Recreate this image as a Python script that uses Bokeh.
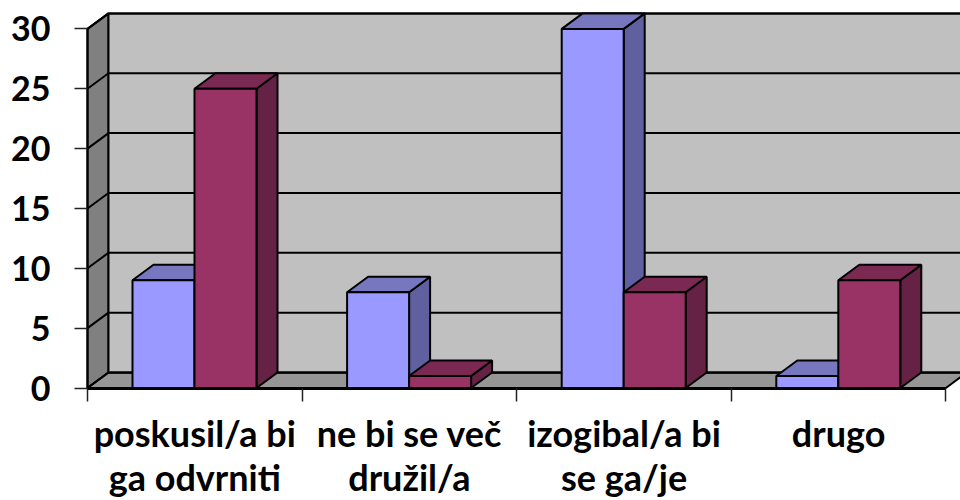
from bokeh.plotting import figure
from bokeh.models import FixedTicker, Range1d
from bokeh.core.properties import value
from bokeh.embed import file_html
from bokeh.resources import INLINE

line1 = ["poskusil/a bi", "ne bi se več", "izogibal/a bi", "drugo"]
line2 = ["ga odvrniti", "družil/a", "se ga/je", ""]
series_a = [9, 8, 30, 1]
series_b = [25, 1, 8, 9]
y_ticks = [0, 5, 10, 15, 20, 25, 30]

PX_X = 214.6
PX_Y = 11.97
DX = 21 / PX_X
DY = 15.5 / PX_Y
GAP = 45 / PX_X
BAR = 62 / PX_X
YMAX = 30
FONT = "Lato"

p = figure(width=960, height=500, output_backend="svg", toolbar_location=None,
           x_range=Range1d(-87 / PX_X, 873 / PX_X), y_range=Range1d(-112.5 / PX_Y, 387.5 / PX_Y),
           min_border=0, outline_line_color=None)
p.grid.visible = False
p.background_fill_color = "white"
p.border_fill_color = "white"

n = len(line1)
p.patch([0, DX, DX, 0], [0, DY, YMAX + DY, YMAX], fill_color="#808080", line_color="black", line_width=2)
p.patch([0, DX, n + DX, n], [0, DY, DY, 0], fill_color="#969696", line_color="black", line_width=2)
p.quad(left=[DX], right=[n + DX], bottom=[DY], top=[YMAX + DY], fill_color="#c0c0c0", line_color="black", line_width=2)
for t in y_ticks:
    p.line([0, DX, n + DX], [t, t + DY, t + DY], line_color="black", line_width=2)


def bar(x, v, front, top, side):
    p.patch([x + BAR, x + BAR + DX, x + BAR + DX, x + BAR], [0, DY, v + DY, v],
            fill_color=side, line_color="black", line_width=2)
    p.patch([x, x + DX, x + BAR + DX, x + BAR], [v, v + DY, v + DY, v],
            fill_color=top, line_color="black", line_width=2)
    p.quad(left=[x], right=[x + BAR], bottom=[0], top=[v], fill_color=front, line_color="black", line_width=2)


for i in range(n):
    bar(i + GAP, series_a[i], "#9999ff", "#7777c0", "#6060a0")
    bar(i + GAP + BAR, series_b[i], "#993366", "#7a2952", "#662244")

xa = p.xaxis[0]
xa.fixed_location = 0
xa.ticker = FixedTicker(ticks=list(range(n + 1)))
xa.major_label_overrides = {i: "" for i in range(n + 1)}
xa.bounds = (0, n)
xa.major_tick_in = 0
xa.major_tick_out = 13
xa.minor_tick_line_color = None
xa.axis_line_color = "black"
xa.axis_line_width = 3
xa.major_tick_line_color = "#222222"
xa.major_tick_line_width = 1.5

ya = p.yaxis[0]
ya.fixed_location = 0
ya.ticker = FixedTicker(ticks=y_ticks)
ya.bounds = (0, YMAX)
ya.major_tick_in = 0
ya.major_tick_out = 13
ya.major_tick_line_color = "#222222"
ya.major_tick_line_width = 1.5
ya.minor_tick_line_color = None
ya.axis_line_color = "black"
ya.axis_line_width = 2
ya.major_label_text_font = FONT
ya.major_label_text_font_style = "bold"
ya.major_label_text_font_size = "34px"
ya.major_label_text_color = "black"
ya.major_label_standoff = 24

centers = [i + 0.5 for i in range(n)]
text_style = dict(text_align="center", text_baseline="alphabetic", text_font=value(FONT),
                  text_font_style="bold", text_font_size="36px", text_color="black")
p.text(x=centers, y=[0] * n, text=line1, y_offset=45, **text_style)
p.text(x=centers, y=[0] * n, text=line2, y_offset=89, **text_style)

open("out.html", "w").write(file_html(p, INLINE))
